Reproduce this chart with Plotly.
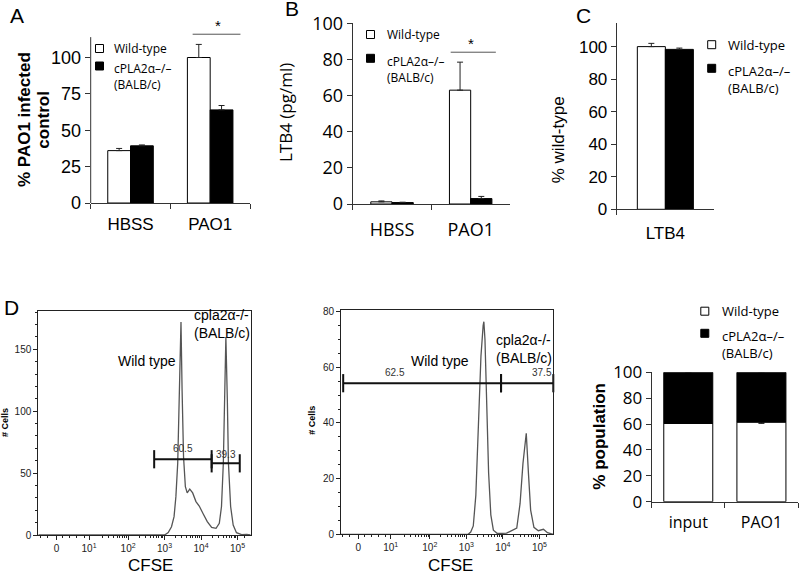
import math
import plotly.graph_objects as go

W, H = 800, 574
def px(x): return x / W
def py(y): return 1 - y / H

ARIAL = "Liberation Sans, Arial, sans-serif"
CAL = "Open Sans, sans-serif"

# ---------------- data ----------------
# Panel A: % PAO1 infected control
a_groups = ["HBSS", "PAO1"]
a_wt = [36, 100]
a_wt_err = [1.5, 9]
a_ko = [39.3, 64]
a_ko_err = [0.6, 3]
a_sig_y = 116

# Panel B: LTB4 (pg/ml)
b_groups = ["HBSS", "PAO1"]
b_wt = [1.2, 63]
b_wt_err = [0.5, 15.5]
b_ko = [0.8, 3]
b_ko_err = [0.2, 1.2]
b_sig_y = 84

# Panel C: % wild-type
c_groups = ["LTB4"]
c_wt = [100]
c_wt_err = [2]
c_ko = [98.3]
c_ko_err = [0.8]

# Panel D (right): % population, stacked
d_groups = ["input", "PAO1"]
d_wt = [60.5, 61.5]
d_wt_err_minus = [0, 1]
d_ko = [39.5, 38.5]
d_ko_err = [0, 1.3]

# Panel D histograms (x in display decades of CFSE, y = # cells)
h1_x = [-0.46, 3.00, 3.10, 3.19, 3.26, 3.31, 3.36, 3.40, 3.45, 3.48, 3.52, 3.57, 3.62,
        3.69, 3.77, 3.86, 3.95, 4.06, 4.17, 4.29, 4.41, 4.50, 4.56, 4.61, 4.64, 4.68,
        4.72, 4.75, 4.81, 4.88, 4.97, 5.11, 5.25, 5.36]
h1_y = [0, 0, 1.9, 6.7, 14.8, 31, 58, 109, 172, 117, 63, 39, 34,
        37, 34, 27, 23.4, 17, 10.8, 6.2, 5.4, 9.4, 23, 58, 109, 160,
        109, 58, 23, 8, 1.9, 0.3, 0.5, 0]

h2_x = [-0.43, 3.05, 3.12, 3.19, 3.26, 3.33, 3.40, 3.46, 3.48, 3.51, 3.56, 3.61, 3.67,
        3.74, 3.85, 4.10, 4.38, 4.47, 4.55, 4.64, 4.70, 4.76, 4.85, 4.97, 5.11, 5.22, 5.38]
h2_y = [0, 0, 0.8, 3, 14, 38, 64, 75, 76.4, 70, 46, 22, 7,
        1.5, 0.3, 0.4, 2.2, 11, 25.5, 36.3, 21.9, 8.7, 2.5, 1.3, 1.8, 0.6, 0]

# gates: (start, end, y, percent)
gates1 = [(2.715, 4.29, 61.2, "60.5"), (4.29, 5.06, 57.9, "39.3")]
gates2 = [(-0.37, 3.95, 54.3, "62.5"), (3.95, 5.38, 54.3, "37.5")]

cfse_tickvals = [0.04, 0.93, 2, 3, 4, 5]
cfse_ticktext = ["0", "10<sup>1</sup>", "10<sup>2</sup>", "10<sup>3</sup>", "10<sup>4</sup>", "10<sup>5</sup>"]

# ---------------- figure ----------------
fig = go.Figure()

def err(arr, minus=None):
    return dict(type="data", array=arr, arrayminus=minus if minus is not None else [0] * len(arr),
                symmetric=False, color="#222", thickness=1, width=3)

def bar_pair(groups, wt, wt_err, ko, ko_err, xa, ya, w):
    fig.add_trace(go.Bar(x=groups, y=wt, width=w, offset=-w, xaxis=xa, yaxis=ya,
                         marker=dict(color="white", line=dict(color="black", width=1)),
                         error_y=err(wt_err), cliponaxis=False, showlegend=False,
                         name="Wild-type"))
    fig.add_trace(go.Bar(x=groups, y=ko, width=w, offset=0, xaxis=xa, yaxis=ya,
                         marker=dict(color="black", line=dict(color="black", width=1)),
                         error_y=err(ko_err), cliponaxis=False, showlegend=False,
                         name="cPLA2α–/– (BALB/c)"))

bar_pair(a_groups, a_wt, a_wt_err, a_ko, a_ko_err, "x", "y", 0.286)
bar_pair(b_groups, b_wt, b_wt_err, b_ko, b_ko_err, "x2", "y2", 0.27)
bar_pair(c_groups, c_wt, c_wt_err, c_ko, c_ko_err, "x3", "y3", 0.288)

# stacked population bars
wd = 0.67
fig.add_trace(go.Bar(x=d_groups, y=d_wt, width=wd, offset=-wd / 2, xaxis="x6", yaxis="y6",
                     marker=dict(color="white", line=dict(color="black", width=1)),
                     error_y=err([0, 0], d_wt_err_minus), cliponaxis=False, showlegend=False,
                     name="Wild-type"))
fig.add_trace(go.Bar(x=d_groups, y=d_ko, base=d_wt, width=wd, offset=-wd / 2, xaxis="x6", yaxis="y6",
                     marker=dict(color="black", line=dict(color="black", width=1)),
                     error_y=err(d_ko_err), cliponaxis=False, showlegend=False,
                     name="cPLA2α–/– (BALB/c)"))

# histograms
fig.add_trace(go.Scatter(x=h1_x, y=h1_y, mode="lines", xaxis="x4", yaxis="y4",
                         line=dict(color="#555", width=1.3), showlegend=False))
fig.add_trace(go.Scatter(x=h2_x, y=h2_y, mode="lines", xaxis="x5", yaxis="y5",
                         line=dict(color="#555", width=1.3), showlegend=False))

for gates, xa, ya in [(gates1, "x4", "y4"), (gates2, "x5", "y5")]:
    for g0, g1, gy, _ in gates:
        fig.add_trace(go.Scatter(x=[g0, g1], y=[gy, gy], mode="lines+markers", xaxis=xa, yaxis=ya,
                                 line=dict(color="#111", width=2),
                                 marker=dict(symbol="line-ns", size=13, line=dict(color="#111", width=2)),
                                 cliponaxis=False, showlegend=False))

# ---------------- axes ----------------
def bar_xaxis(dom, anchor, n, size, family, standoff=0):
    return dict(domain=dom, anchor=anchor, type="category", range=[-0.5, n - 0.5],
                showline=True, linecolor="#333", linewidth=1, ticks="outside", tickson="boundaries",
                ticklen=5, tickcolor="#333", showgrid=False, zeroline=False,
                ticklabelstandoff=standoff,
                tickfont=dict(size=size, family=family, color="black"))

def bar_yaxis(dom, anchor, rng, dtick, size, family, line=True):
    return dict(domain=dom, anchor=anchor, range=rng, tickvals=list(range(0, 101, dtick)),
                showline=line, linecolor="#333", linewidth=1, ticks="outside", ticklen=5,
                tickcolor="#333", showgrid=False, zeroline=False,
                tickfont=dict(size=size, family=family, color="black"))

minor_x = []
for k in range(1, 5):
    for m in range(2, 10):
        minor_x.append(k + math.log10(m))
minor_x += [-0.4, -0.2, 0.2, 0.4, 0.6, 0.8, 5.2]

def hist_xaxis(dom, anchor, rng):
    return dict(domain=dom, anchor=anchor, range=rng, tickvals=cfse_tickvals, ticktext=cfse_ticktext,
                showline=True, mirror=True, linecolor="#222", linewidth=1, ticks="outside", ticklen=4,
                tickcolor="#222", showgrid=False, zeroline=False,
                tickfont=dict(size=10, family=ARIAL, color="#222"),
                minor=dict(tickvals=minor_x, ticks="outside", ticklen=2, tickcolor="#222"))

def hist_yaxis(dom, anchor, rng, dtick, mdt):
    return dict(domain=dom, anchor=anchor, range=rng, dtick=dtick, tick0=0,
                showline=True, mirror=True, linecolor="#222", linewidth=1, ticks="outside", ticklen=4,
                tickcolor="#222", showgrid=False, zeroline=False,
                tickfont=dict(size=10, family=ARIAL, color="#222"),
                minor=dict(dtick=mdt, ticks="outside", ticklen=2, tickcolor="#222"))

# panel A: the y range leaves room for the significance bar above the axis line
a_y_top = 114
fig.update_layout(
    width=W, height=H, margin=dict(l=0, r=0, t=0, b=0, autoexpand=False),
    paper_bgcolor="white", plot_bgcolor="rgba(0,0,0,0)",
    barmode="overlay",
    xaxis=bar_xaxis([px(90.7), px(250)], "y", 2, 17, ARIAL, 6),
    yaxis=bar_yaxis([py(203), py(203 - 1.455 * 118)], "x", [0, 118], 25, 18, ARIAL, line=False),
    xaxis2=bar_xaxis([px(352.7), px(510)], "y2", 2, 18, CAL, 9),
    yaxis2=bar_yaxis([py(204), py(23.3)], "x2", [0, 100], 20, 18, CAL),
    xaxis3=bar_xaxis([px(616.7), px(714)], "y3", 1, 17, ARIAL, 8),
    yaxis3=bar_yaxis([py(209.3), py(22.7)], "x3", [0, 114.7], 20, 17, ARIAL),
    xaxis4=hist_xaxis([px(38.3), px(250.7)], "y4", [-0.46, 5.36]),
    yaxis4=hist_yaxis([py(535), py(310.7)], "x4", [0, 181.2], 50, 10),
    xaxis5=hist_xaxis([px(341), px(553.3)], "y5", [-0.43, 5.38]),
    yaxis5=hist_yaxis([py(534.3), py(310)], "x5", [0, 80.6], 20, 5),
    xaxis6=bar_xaxis([px(651.7), px(798)], "y6", 2, 16, CAL, 6),
    yaxis6=bar_yaxis([py(501.7), py(372.3)], "x6", [0, 100], 20, 17, CAL),
)

# ---------------- text, legends, significance ----------------
ann = []
def txt(x, y, s, size, family=ARIAL, angle=0, xanchor="center", color="black", yanchor="middle"):
    ann.append(dict(x=px(x), y=py(y), xref="paper", yref="paper", text=s, showarrow=False,
                    font=dict(size=size, family=family, color=color), textangle=angle,
                    xanchor=xanchor, yanchor=yanchor,
                    align="left" if xanchor == "left" else "center"))

shapes = []
# y axis line of panel A (stops below the significance bar)
shapes.append(dict(type="line", xref="x domain", yref="y", x0=0, x1=0, y0=0, y1=a_y_top,
                   line=dict(color="#333", width=1)))

def legend(cx, y_wt, y_ko, tx, size):
    for yy, col in [(y_wt, "white"), (y_ko, "black")]:
        shapes.append(dict(type="rect", xref="paper", yref="paper",
                           x0=px(cx - 4), x1=px(cx + 4), y0=py(yy + 4), y1=py(yy - 4),
                           fillcolor=col, line=dict(color="black", width=1)))
    txt(tx, y_wt, "Wild-type", size, CAL, xanchor="left")
    # two-line entry: top of box half a line above the square centre
    txt(tx, y_ko - 0.65 * size, "cPLA2α–/–<br>(BALB/c)", size, CAL, xanchor="left", yanchor="top")

def sig(xa, ya, x0, x1, yv, xstar):
    shapes.append(dict(type="line", xref=xa, yref=ya, x0=x0, x1=x1, y0=yv, y1=yv,
                       line=dict(color="#555", width=1)))
    ann.append(dict(x=xstar, y=yv, xref=xa, yref=ya, text="*", showarrow=False, yshift=9,
                    font=dict(size=15, family=ARIAL, color="black"), yanchor="middle"))

# Panel A
txt(16.7, 15, "A", 21)
txt(24, 120, "<b>% PAO1 infected</b>", 17, angle=-90)
txt(42.7, 120, "<b>control</b>", 17, angle=-90)
legend(99.5, 48.5, 66, 112, 12)
sig("x", "y", 0.78, 1.38, a_sig_y, 1.1)

# Panel B
txt(291.7, 9, "B", 21)
txt(285, 113, "LTB4 (pg/ml)", 17, CAL, angle=-90)
legend(370.5, 34.5, 58.3, 385, 12)
sig("x2", "y2", 0.746, 1.32, b_sig_y, 1.0)

# Panel C
txt(583.3, 15, "C", 21)
txt(558.3, 140, "% wild-type", 17, angle=-90)
legend(711.7, 44.7, 68.3, 726, 13)

# Panel D
txt(11.7, 307.5, "D", 21)
txt(5, 423, "<b># Cells</b>", 9, angle=-90)
txt(311.7, 420, "<b># Cells</b>", 9, angle=-90)
txt(147, 360.7, "Wild type", 14)
txt(192, 305, "cpla2α-/-<br>(BALB/c)", 14, xanchor="left", yanchor="top")
txt(440, 360.7, "Wild type", 14)
txt(494, 330, "cpla2α-/-<br>(BALB/c)", 14, xanchor="left", yanchor="top")
txt(150, 565, "CFSE", 17)
txt(450, 565, "CFSE", 17)
txt(600, 436.7, "<b>% population</b>", 17, angle=-90)
legend(704.8, 311.2, 333.3, 720, 13)

# gate labels
gate_label_pos1 = [(3.51, 70), (4.68, 65.4)]
gate_label_pos2 = [(1.05, 58.2), (5.07, 58.2)]
for gates, pos, xa, ya in [(gates1, gate_label_pos1, "x4", "y4"), (gates2, gate_label_pos2, "x5", "y5")]:
    for (g0, g1, gy, lab), (lx, ly) in zip(gates, pos):
        ann.append(dict(x=lx, y=ly, xref=xa, yref=ya, text=lab, showarrow=False,
                        font=dict(size=10, family=ARIAL, color="#333"), yanchor="middle"))

fig.update_layout(annotations=ann, shapes=shapes)
fig.write_html("out.html", config={"displayModeBar": False},
               post_script="document.body.style.margin='0px';")
